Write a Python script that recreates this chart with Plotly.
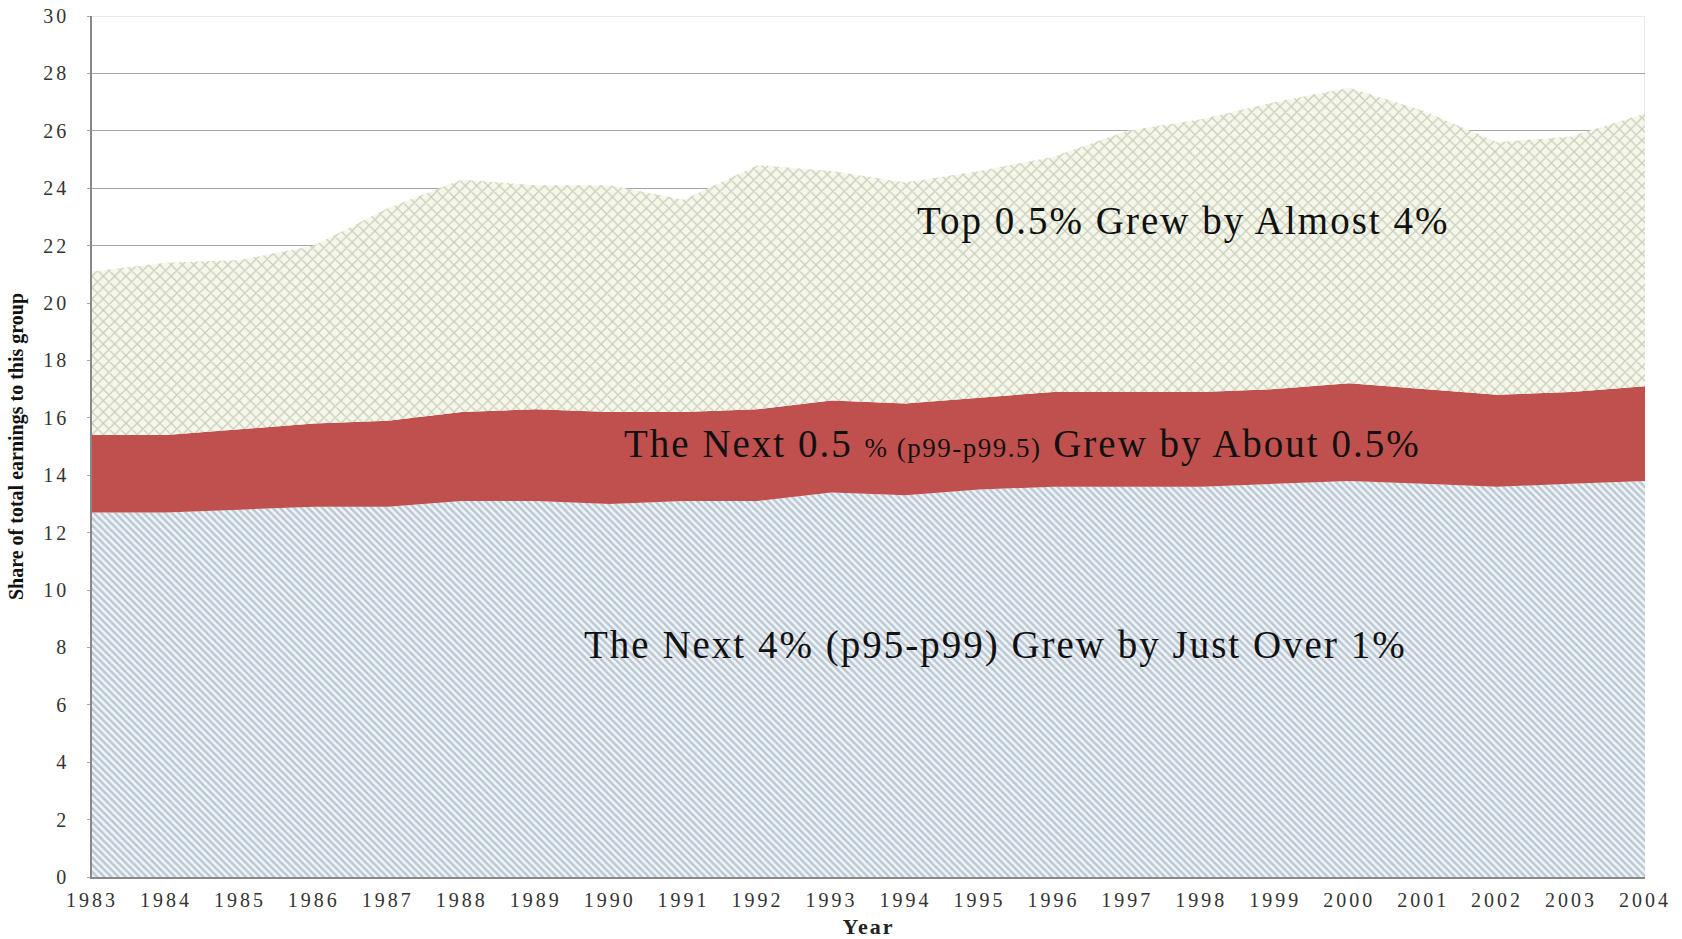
import plotly.graph_objects as go

# Years on the horizontal axis
years = list(range(1983, 2005))

# Share of total earnings (percent) going to each group
p95_p99 = [12.7, 12.7, 12.8, 12.9, 12.9, 13.1, 13.1, 13.0, 13.1, 13.1, 13.4,
           13.3, 13.5, 13.6, 13.6, 13.6, 13.7, 13.8, 13.7, 13.6, 13.7, 13.8]
p99_p995 = [2.7, 2.7, 2.8, 2.9, 3.0, 3.1, 3.2, 3.2, 3.1, 3.2, 3.2,
            3.2, 3.2, 3.3, 3.3, 3.3, 3.3, 3.4, 3.3, 3.2, 3.2, 3.3]
top_05 = [5.7, 6.0, 5.9, 6.2, 7.4, 8.1, 7.8, 7.9, 7.4, 8.5, 8.0,
          7.7, 7.9, 8.2, 9.1, 9.5, 10.0, 10.3, 9.7, 8.8, 8.9, 9.5]

y_ticks = list(range(0, 31, 2))

label_font = "Liberation Serif, Times New Roman, serif"


def spaced(text, spacing=3, size=None):
    """Wrap text in a span with extra letter spacing (and optional size)."""
    style = f"letter-spacing:{spacing}px"
    if size:
        style += f";font-size:{size}px"
    return f"<span style='{style}'>{text}</span>"


fig = go.Figure()

fig.add_trace(go.Scatter(
    x=years, y=p95_p99, name="p95-p99", stackgroup="one", mode="lines",
    line=dict(width=0, color="#8aa2b8"),
    fillcolor="#f2f5f8",
    fillpattern=dict(shape="\\", fgcolor="#8299af", bgcolor="#f2f5f8",
                     size=5, solidity=0.5),
))
fig.add_trace(go.Scatter(
    x=years, y=p99_p995, name="p99-p99.5", stackgroup="one", mode="lines",
    line=dict(width=0, color="#c0504d"),
    fillcolor="#c0504d",
))
fig.add_trace(go.Scatter(
    x=years, y=top_05, name="Top 0.5%", stackgroup="one", mode="lines",
    line=dict(width=0, color="#a2ab88"),
    fillcolor="#f6f7ec",
    fillpattern=dict(shape="x", fgcolor="#9aa582", bgcolor="#f6f7ec",
                     size=8, solidity=0.3),
))

# Light frame on the top and right of the plotting area
fig.add_shape(type="line", xref="x", yref="y", x0=1983, x1=2004, y0=30, y1=30,
              line=dict(color="#c7d3de", width=1), layer="above")
fig.add_shape(type="line", xref="x", yref="y", x0=2004, x1=2004, y0=0, y1=30,
              line=dict(color="#c7d3de", width=1), layer="below")

ann_font = dict(family=label_font, size=39, color="#111111")
fig.add_annotation(x=1997.75, y=22.85, xref="x", yref="y", showarrow=False,
                   text=spaced("Top 0.5% Grew by Almost 4%", 2), font=ann_font)
fig.add_annotation(x=1995.58, y=15.1, xref="x", yref="y", showarrow=False,
                   text=spaced("The Next 0.5 ", 2)
                   + spaced("% (p99-p99.5)", 1.5, 27)
                   + spaced(" Grew by About 0.5%", 2),
                   font=ann_font)
fig.add_annotation(x=1995.22, y=8.08, xref="x", yref="y", showarrow=False,
                   text=spaced("The Next 4% (p95-p99) Grew by Just Over 1%", 2),
                   font=ann_font)

fig.update_layout(
    width=1682, height=939,
    margin=dict(l=92, r=37, t=16, b=62),
    paper_bgcolor="white", plot_bgcolor="white",
    showlegend=False,
    font=dict(family=label_font, size=20, color="#333333"),
    xaxis=dict(
        range=[1983, 2004], tickmode="array", tickvals=years,
        ticktext=[spaced(str(y), 3) for y in years],
        showgrid=False, zeroline=False, automargin=False,
        showline=True, linecolor="#888888", linewidth=1.5,
        ticks="", ticklabelstandoff=4,
        tickfont=dict(size=20, color="#333333"),
        title=dict(text="<b>" + spaced("Year", 2) + "</b>",
                   font=dict(size=22, color="#222222"), standoff=11),
    ),
    yaxis=dict(
        range=[0, 30], tickmode="array", tickvals=y_ticks,
        ticktext=[spaced(str(v), 3) for v in y_ticks],
        showgrid=True, gridcolor="#a6a6a6", gridwidth=1,
        zeroline=False, showline=True, linecolor="#888888", linewidth=1.5,
        automargin=False,
        ticks="outside", ticklen=3, tickcolor="#a6a6a6", ticklabelstandoff=14,
        tickfont=dict(size=20, color="#333333"),
        title=dict(text="<b>Share of total earnings to this group</b>",
                   font=dict(size=20, color="#111111"), standoff=14),
    ),
)

fig.write_html("out.html")
